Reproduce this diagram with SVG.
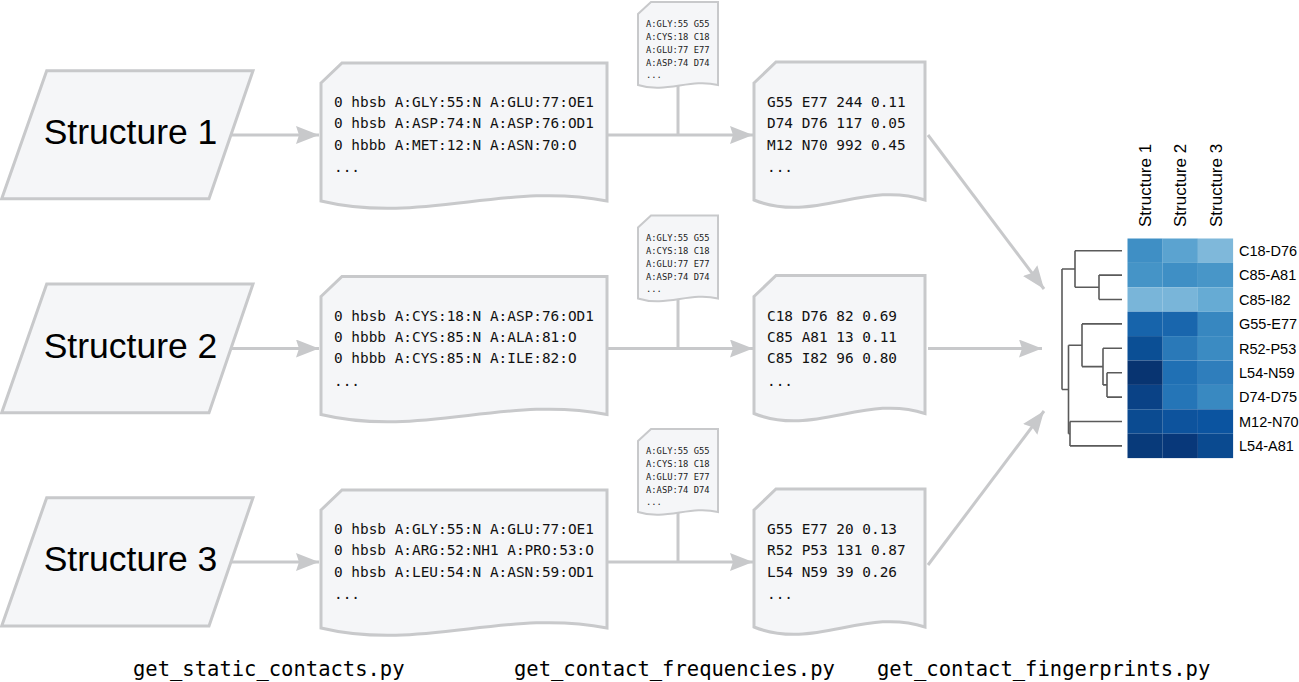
<svg xmlns="http://www.w3.org/2000/svg" width="1299" height="682" viewBox="0 0 1299 682">
<style>
.shape{fill:#f5f6f8;stroke:#c8c9cb;stroke-width:3;stroke-linejoin:miter}
.conn{fill:none;stroke:#c8c9cb;stroke-width:3}
.big{font-family:"Liberation Sans",Arial,sans-serif;font-size:35.5px;fill:#000;text-anchor:middle}
.mono{font-family:"DejaVu Sans Mono",monospace;font-size:14.4px;fill:#111}
.tiny{font-family:"DejaVu Sans Mono",monospace;font-size:8.8px;fill:#222}
.lbl{font-family:"DejaVu Sans Mono",monospace;font-size:20.5px;fill:#000}
.hm{font-family:"Liberation Sans",Arial,sans-serif;font-size:14.5px;fill:#000}
.col{font-family:"Liberation Sans",Arial,sans-serif;font-size:17px;fill:#000;text-anchor:start}
.den{fill:none;stroke:#5a5a5a;stroke-width:1.6}
</style>
<defs>
<marker id="arr" markerUnits="userSpaceOnUse" markerWidth="26" markerHeight="20" refX="23" refY="9" orient="auto">
<path d="M0,0 L23,9 L0,18 L3,9 Z" fill="#c8c9cb"/>
</marker>
</defs>

<!-- connectors -->
<g id="connectors">
<line class="conn" x1="232" y1="135" x2="319" y2="135" marker-end="url(#arr)"/>
<line class="conn" x1="232" y1="348.5" x2="319" y2="348.5" marker-end="url(#arr)"/>
<line class="conn" x1="232" y1="562" x2="319" y2="562" marker-end="url(#arr)"/>
<line class="conn" x1="607" y1="135" x2="753" y2="135" marker-end="url(#arr)"/>
<line class="conn" x1="607" y1="348.5" x2="753" y2="348.5" marker-end="url(#arr)"/>
<line class="conn" x1="607" y1="562" x2="753" y2="562" marker-end="url(#arr)"/>
<line class="conn" x1="678" y1="85" x2="678" y2="135"/>
<line class="conn" x1="678" y1="298.5" x2="678" y2="348.5"/>
<line class="conn" x1="678" y1="512" x2="678" y2="562"/>
<line class="conn" x1="928" y1="135" x2="1044" y2="289" marker-end="url(#arr)"/>
<line class="conn" x1="928" y1="348.5" x2="1042" y2="348.5" marker-end="url(#arr)"/>
<line class="conn" x1="928" y1="565" x2="1044" y2="411" marker-end="url(#arr)"/>
</g>

<!-- structures -->
<g id="structure1">
<path class="shape" d="M46.7,70.7 L253,70.7 L209,198.7 L1.7,198.7 Z"/>
<text class="big" x="130.5" y="144">Structure 1</text>
</g>
<g id="structure2">
<path class="shape" d="M46.7,284 L253,284 L209,412.7 L1.7,412.7 Z"/>
<text class="big" x="130.5" y="357.5">Structure 2</text>
</g>
<g id="structure3">
<path class="shape" d="M46.7,497.7 L253,497.7 L209,626 L1.7,626 Z"/>
<text class="big" x="130.5" y="570.5">Structure 3</text>
</g>

<!-- static contacts docs -->
<g id="static1">
<path class="shape" d="M321,83 L342,63 L607,63 L607,201 C507,181 421,225 321,201 Z"/>
<text class="mono" x="334" y="107">0 hbsb A:GLY:55:N A:GLU:77:OE1</text>
<text class="mono" x="334" y="128">0 hbsb A:ASP:74:N A:ASP:76:OD1</text>
<text class="mono" x="334" y="149.5">0 hbbb A:MET:12:N A:ASN:70:O</text>
<text class="mono" x="334" y="172">...</text>
</g>
<g id="static2">
<path class="shape" d="M321,296.5 L342,276.5 L607,276.5 L607,414.5 C507,394.5 421,438.5 321,414.5 Z"/>
<text class="mono" x="334" y="320.5">0 hbsb A:CYS:18:N A:ASP:76:OD1</text>
<text class="mono" x="334" y="341.5">0 hbbb A:CYS:85:N A:ALA:81:O</text>
<text class="mono" x="334" y="363">0 hbbb A:CYS:85:N A:ILE:82:O</text>
<text class="mono" x="334" y="385.5">...</text>
</g>
<g id="static3">
<path class="shape" d="M321,510 L342,490 L607,490 L607,628 C507,608 421,652 321,628 Z"/>
<text class="mono" x="334" y="534">0 hbsb A:GLY:55:N A:GLU:77:OE1</text>
<text class="mono" x="334" y="555">0 hbsb A:ARG:52:NH1 A:PRO:53:O</text>
<text class="mono" x="334" y="576.5">0 hbsb A:LEU:54:N A:ASN:59:OD1</text>
<text class="mono" x="334" y="599">...</text>
</g>

<!-- label files -->
<g id="labels1">
<path class="shape" d="M638,14 L651,2 L718,2 L718,85 C690,78 666,94 638,85 Z" style="stroke-width:2"/>
<text class="tiny" x="646" y="27">A:GLY:55 G55</text>
<text class="tiny" x="646" y="40">A:CYS:18 C18</text>
<text class="tiny" x="646" y="53">A:GLU:77 E77</text>
<text class="tiny" x="646" y="66">A:ASP:74 D74</text>
<text class="tiny" x="646" y="78">...</text>
</g>
<g id="labels2">
<path class="shape" d="M638,227.5 L651,215.5 L718,215.5 L718,298.5 C690,291.5 666,307.5 638,298.5 Z" style="stroke-width:2"/>
<text class="tiny" x="646" y="240.5">A:GLY:55 G55</text>
<text class="tiny" x="646" y="253.5">A:CYS:18 C18</text>
<text class="tiny" x="646" y="266.5">A:GLU:77 E77</text>
<text class="tiny" x="646" y="279.5">A:ASP:74 D74</text>
<text class="tiny" x="646" y="291.5">...</text>
</g>
<g id="labels3">
<path class="shape" d="M638,441 L651,429 L718,429 L718,512 C690,505 666,521 638,512 Z" style="stroke-width:2"/>
<text class="tiny" x="646" y="454">A:GLY:55 G55</text>
<text class="tiny" x="646" y="467">A:CYS:18 C18</text>
<text class="tiny" x="646" y="480">A:GLU:77 E77</text>
<text class="tiny" x="646" y="493">A:ASP:74 D74</text>
<text class="tiny" x="646" y="505">...</text>
</g>

<!-- frequency docs -->
<g id="freq1">
<path class="shape" d="M754,83 L776,62 L925,62 L925,200 C865,180 814,224 754,200 Z"/>
<text class="mono" x="767" y="107">G55 E77 244 0.11</text>
<text class="mono" x="767" y="128">D74 D76 117 0.05</text>
<text class="mono" x="767" y="149.5">M12 N70 992 0.45</text>
<text class="mono" x="767" y="172">...</text>
</g>
<g id="freq2">
<path class="shape" d="M754,296.5 L776,275.5 L925,275.5 L925,413.5 C865,393.5 814,437.5 754,413.5 Z"/>
<text class="mono" x="767" y="320.5">C18 D76 82 0.69</text>
<text class="mono" x="767" y="341.5">C85 A81 13 0.11</text>
<text class="mono" x="767" y="363">C85 I82 96 0.80</text>
<text class="mono" x="767" y="385.5">...</text>
</g>
<g id="freq3">
<path class="shape" d="M754,510 L776,489 L925,489 L925,627 C865,607 814,651 754,627 Z"/>
<text class="mono" x="767" y="534">G55 E77 20 0.13</text>
<text class="mono" x="767" y="555">R52 P53 131 0.87</text>
<text class="mono" x="767" y="576.5">L54 N59 39 0.26</text>
<text class="mono" x="767" y="599">...</text>
</g>

<!-- fingerprint heatmap -->
<g id="fingerprint">
<g id="heatmap">
<rect x="1127.5" y="238.5" width="35.2" height="24.4" fill="#3f8fc5"/>
<rect x="1162.7" y="238.5" width="35.2" height="24.4" fill="#5ba3d0"/>
<rect x="1197.9" y="238.5" width="35.2" height="24.4" fill="#7fb8da"/>
<rect x="1127.5" y="262.9" width="35.2" height="24.4" fill="#4594c7"/>
<rect x="1162.7" y="262.9" width="35.2" height="24.4" fill="#3f8fc5"/>
<rect x="1197.9" y="262.9" width="35.2" height="24.4" fill="#4896c8"/>
<rect x="1127.5" y="287.3" width="35.2" height="24.4" fill="#79b5d9"/>
<rect x="1162.7" y="287.3" width="35.2" height="24.4" fill="#79b5d9"/>
<rect x="1197.9" y="287.3" width="35.2" height="24.4" fill="#66abd4"/>
<rect x="1127.5" y="311.7" width="35.2" height="24.4" fill="#1764ab"/>
<rect x="1162.7" y="311.7" width="35.2" height="24.4" fill="#1966ad"/>
<rect x="1197.9" y="311.7" width="35.2" height="24.4" fill="#3787c0"/>
<rect x="1127.5" y="336.1" width="35.2" height="24.4" fill="#0b4f95"/>
<rect x="1162.7" y="336.1" width="35.2" height="24.4" fill="#2a79b8"/>
<rect x="1197.9" y="336.1" width="35.2" height="24.4" fill="#3b8bc2"/>
<rect x="1127.5" y="360.5" width="35.2" height="24.4" fill="#083471"/>
<rect x="1162.7" y="360.5" width="35.2" height="24.4" fill="#2070b4"/>
<rect x="1197.9" y="360.5" width="35.2" height="24.4" fill="#2f7ebc"/>
<rect x="1127.5" y="384.9" width="35.2" height="24.4" fill="#0a4286"/>
<rect x="1162.7" y="384.9" width="35.2" height="24.4" fill="#2575b7"/>
<rect x="1197.9" y="384.9" width="35.2" height="24.4" fill="#3989c1"/>
<rect x="1127.5" y="409.3" width="35.2" height="24.4" fill="#0b4b91"/>
<rect x="1162.7" y="409.3" width="35.2" height="24.4" fill="#0d539d"/>
<rect x="1197.9" y="409.3" width="35.2" height="24.4" fill="#0b54a0"/>
<rect x="1127.5" y="433.7" width="35.2" height="24.4" fill="#083a7a"/>
<rect x="1162.7" y="433.7" width="35.2" height="24.4" fill="#08387a"/>
<rect x="1197.9" y="433.7" width="35.2" height="24.4" fill="#0a4a90"/>
</g>
<g id="dendrogram">
<path class="den" d="M1099,275.1 H1122 M1099,299.5 H1122 M1099,275.1 V299.5"/>
<path class="den" d="M1075,250.7 H1122 M1075,287.3 H1099 M1075,250.7 V287.3"/>
<path class="den" d="M1107,372.7 H1122 M1107,397.1 H1122 M1107,372.7 V397.1"/>
<path class="den" d="M1103,348.3 H1122 M1103,384.9 H1107 M1103,348.3 V384.9"/>
<path class="den" d="M1082,323.9 H1122 M1082,366.6 H1103 M1082,323.9 V366.6"/>
<path class="den" d="M1070,421.5 H1122 M1070,445.9 H1122 M1070,421.5 V445.9"/>
<path class="den" d="M1068.5,345.3 H1082 M1068.5,433.7 H1070 M1068.5,345.3 V433.7"/>
<path class="den" d="M1062,269 H1075 M1062,389.5 H1068.5 M1062,269 V389.5"/>
</g>
<g id="collabels">
<text class="col" transform="translate(1151,227) rotate(-90)">Structure 1</text>
<text class="col" transform="translate(1186.3,227) rotate(-90)">Structure 2</text>
<text class="col" transform="translate(1221.5,227) rotate(-90)">Structure 3</text>
</g>
<g id="rowlabels">
<text class="hm" x="1239" y="256">C18-D76</text>
<text class="hm" x="1239" y="280.4">C85-A81</text>
<text class="hm" x="1239" y="304.8">C85-I82</text>
<text class="hm" x="1239" y="329.2">G55-E77</text>
<text class="hm" x="1239" y="353.6">R52-P53</text>
<text class="hm" x="1239" y="378">L54-N59</text>
<text class="hm" x="1239" y="402.4">D74-D75</text>
<text class="hm" x="1239" y="426.8">M12-N70</text>
<text class="hm" x="1239" y="451.2">L54-A81</text>
</g>
</g>

<!-- script names -->
<g id="scripts">
<text class="lbl" x="133" y="676">get_static_contacts.py</text>
<text class="lbl" x="514" y="676">get_contact_frequencies.py</text>
<text class="lbl" x="877" y="676">get_contact_fingerprints.py</text>
</g>
</svg>
